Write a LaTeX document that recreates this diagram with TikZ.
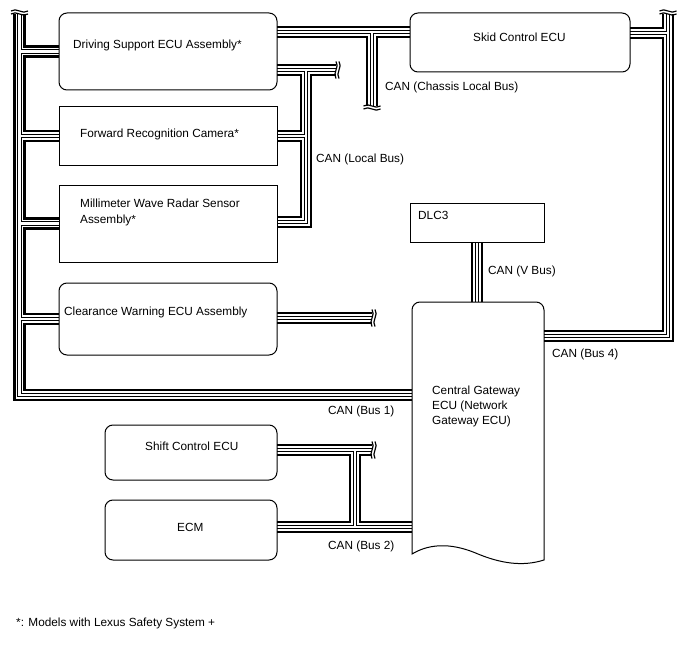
\documentclass[tikz,border=0pt]{standalone}
\usepackage{fontspec}
\setmainfont{Liberation Sans}
\newcommand\canbus[1]{%
  \draw[line width=12.5pt] #1;
  \draw[white,line width=7.5pt] #1;
  \draw[line width=4.2pt] #1;
  \draw[white,line width=2.2pt] #1;}
\newcommand\brkH[2]{%
  \foreach \d in {#2}{%
    \draw[line width=1.2pt] ([shift={(\d,-8.5)}]#1) .. controls +(4,5) and +(-4,-5) .. ([shift={(\d,8.5)}]#1);}}
\newcommand\brkV[2]{%
  \foreach \d in {#2}{%
    \draw[line width=1.2pt] ([shift={(-8.5,\d)}]#1) .. controls +(5,-4) and +(-5,4) .. ([shift={(8.5,\d)}]#1);}}
\begin{document}
\begin{tikzpicture}[x=1pt,y=-1pt,line join=miter,line cap=butt]
\tikzset{
  box/.style={draw, line width=1pt, inner sep=0pt, outer sep=0pt},
  rbox/.style={box, rounded corners=8pt},
  lbl/.style={anchor=base west, inner sep=0pt, font=\fontsize{11.8}{14}\selectfont},
}
\fill[white] (0,0) rectangle (688,658);
\useasboundingbox (0,0) rectangle (688,658);

% box placeholders (named) - outlines drawn later on top of buses
\path (168,51.5) node[minimum width=218pt, minimum height=77pt, inner sep=0pt, outer sep=0pt] (ds) {};
\path (168,136) node[minimum width=218pt, minimum height=58pt, inner sep=0pt, outer sep=0pt] (fc) {};
\path (168,223.5) node[minimum width=218pt, minimum height=77pt, inner sep=0pt, outer sep=0pt] (mw) {};
\path (168,319) node[minimum width=218pt, minimum height=72pt, inner sep=0pt, outer sep=0pt] (cw) {};
\path (520,42.5) node[minimum width=220pt, minimum height=59pt, inner sep=0pt, outer sep=0pt] (sk) {};
\path (477,222.5) node[minimum width=134pt, minimum height=39pt, inner sep=0pt, outer sep=0pt] (dlc) {};
\path (478,431) node[minimum width=132pt, minimum height=258pt, inner sep=0pt, outer sep=0pt] (gw) {};
\path (191,452.5) node[minimum width=172pt, minimum height=55pt, inner sep=0pt, outer sep=0pt] (sc) {};
\path (191,530) node[minimum width=172pt, minimum height=60pt, inner sep=0pt, outer sep=0pt] (ecm) {};

% bus coordinates
\coordinate (b1t) at (19.5,14);
\coordinate (b1c) at (19.5,395);
\coordinate (chT) at (372,32);
\coordinate (chB) at (372,106);
\coordinate (lbE) at (336,70);
\coordinate (lbT) at (306,70);
\coordinate (lbB) at (306,222);
\coordinate (cwE) at (372,318);
\coordinate (b4c) at (668,336);
\coordinate (b4t) at (668,14);
\coordinate (b4s) at (668,33);
\coordinate (b2E) at (372,450);
\coordinate (b2t) at (355,450);
\coordinate (b2b) at (355,527);

% CAN (Bus 1)
\canbus{(b1t) -- (b1c) -- (b1c -| gw.west)
  (b1t |- ds.west) -- (ds.west)
  (b1t |- fc.west) -- (fc.west)
  (b1t |- mw.west) -- (mw.west)
  (b1t |- cw.west) -- (cw.west)}
\brkV{b1t}{0,-3}
% CAN (Chassis Local Bus)
\canbus{(ds.east |- chT) -- (sk.west |- chT) (chT) -- (chB)}
\brkV{chB}{0,3}
% CAN (Local Bus)
\canbus{(ds.east |- lbE) -- (lbE) (lbT) -- (lbB) -- (mw.east |- lbB) (lbT |- fc.east) -- (fc.east)}
\brkH{lbE}{0,3}
% Clearance warning bus
\canbus{(cw.east |- cwE) -- (cwE)}
\brkH{cwE}{0,3}
% CAN (Bus 4)
\canbus{(gw.east |- b4c) -- (b4c) -- (b4t) (b4s) -- (sk.east |- b4s)}
\brkV{b4t}{0,-3}
% CAN (V Bus)
\canbus{(dlc.south) -- (dlc.south |- gw.north)}
% CAN (Bus 2)
\canbus{(sc.east |- b2E) -- (b2E) (b2t) -- (b2b) (ecm.east |- b2b) -- (gw.west |- b2b)}
\brkH{b2E}{0,3}

% boxes
\draw[rbox] (ds.south west) rectangle (ds.north east);
\draw[box] (fc.south west) rectangle (fc.north east);
\draw[box] (mw.south west) rectangle (mw.north east);
\draw[rbox] (cw.south west) rectangle (cw.north east);
\draw[rbox] (sk.south west) rectangle (sk.north east);
\draw[box] (dlc.south west) rectangle (dlc.north east);
\draw[rbox] (sc.south west) rectangle (sc.north east);
\draw[rbox] (ecm.south west) rectangle (ecm.north east);
\draw[line width=1pt] (412,554) [rounded corners=8pt] -- (gw.north west) -- (gw.north east) [sharp corners] -- (544,560)
  .. controls (522,567) and (500,563) .. (478,554) .. controls (455,544) and (432,542) .. (412,554) -- cycle;

% labels
\node[lbl] (tds) at (73,49) {Driving Support ECU Assembly*};
\node[lbl] (tsk) at (473,42) {Skid Control ECU};
\node[lbl] (tch) at (385,91) {CAN (Chassis Local Bus)};
\node[lbl] (tlb) at (316,162) {CAN (Local Bus)};
\node[lbl] (tfc) at (80,138) {Forward Recognition Camera*};
\node[lbl] (tmw1) at (80,207) {Millimeter Wave Radar Sensor};
\node[lbl] (tmw2) at (80,223) {Assembly*};
\node[lbl] (tdlc) at (418,219) {DLC3};
\node[lbl] (tvb) at (488,274) {CAN (V Bus)};
\node[lbl] (tcw) at (64,315) {Clearance Warning ECU Assembly};
\node[lbl] (tb4) at (552,357) {CAN (Bus 4)};
\node[lbl] (tgw1) at (432,394) {Central Gateway};
\node[lbl] (tgw2) at (432,409) {ECU (Network};
\node[lbl] (tgw3) at (432,424) {Gateway ECU)};
\node[lbl] (tb1) at (328,414) {CAN (Bus 1)};
\node[lbl] (tsc) at (145,450) {Shift Control ECU};
\node[lbl] (tecm) at (177,531) {ECM};
\node[lbl] (tb2) at (328,549) {CAN (Bus 2)};
\node[lbl] (tfn) at (16,626) {*: Models with Lexus Safety System +};
\end{tikzpicture}
\end{document}
